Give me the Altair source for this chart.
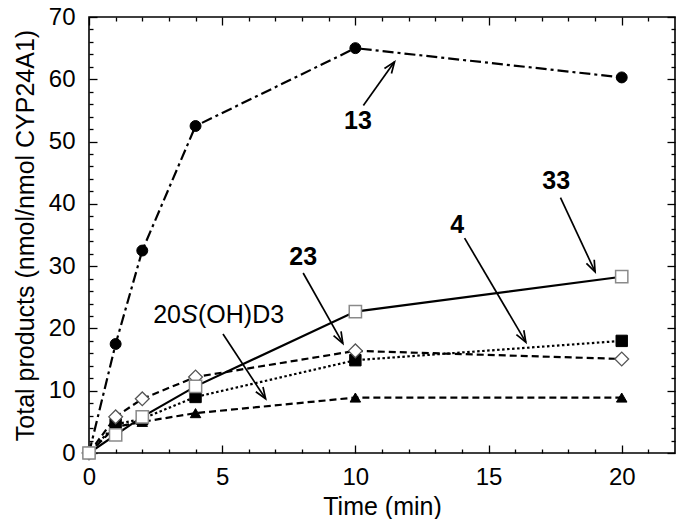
import math
import altair as alt
import pandas as pd

# ---------------- data ----------------
time = [0, 1, 2, 4, 10, 20]
c13 = [0, 17.5, 32.5, 52.5, 65.0, 60.3]
c33 = [0, 2.9, 5.8, 10.7, 22.7, 28.3]
c4 = [0, 4.6, 5.5, 9.0, 14.9, 18.0]
c23 = [0, 5.8, 8.7, 12.2, 16.4, 15.1]
c20s = [0, 4.2, 5.0, 6.4, 8.9, 8.9]

x_major = [0, 5, 10, 15, 20]
y_major = [0, 10, 20, 30, 40, 50, 60, 70]
x_ticks = list(range(0, 22))
y_ticks = list(range(0, 71, 2))

label_text = ["13", "33", "4", "23"]
label_x = [10.1, 17.54, 13.82, 8.04]
label_y = [53.3, 43.7, 36.6, 31.5]

arrow_x1 = [10.3, 17.7, 14.1, 8.04, 5.03]
arrow_y1 = [55.8, 41.0, 34.5, 28.9, 19.1]
arrow_x2 = [11.47, 19.0, 16.4, 9.53, 6.63]
arrow_y2 = [62.8, 29.1, 17.8, 17.6, 8.7]

oh_x = [4.88]
oh_y = [22.2]

# ---------------- layout ----------------
W, H = 586, 436
XMAX, YMAX = 22, 70
FONT = "Liberation Sans"

xs = alt.Scale(domain=[0, XMAX], nice=False, zero=False)
ys = alt.Scale(domain=[0, YMAX], nice=False, zero=False)


def X(field, **kw):
    return alt.X(field, type="quantitative", scale=xs, **kw)


def Y(field, **kw):
    return alt.Y(field, type="quantitative", scale=ys, **kw)


dummy = pd.DataFrame({"t": [0], "v": [0]})

x_tsize = {"condition": {"test": "datum.value % 5 === 0", "value": 8}, "value": 4}
y_tsize = {"condition": {"test": "datum.value % 10 === 0", "value": 8}, "value": 4}

# labelled axes (no ticks)
axis_labels = alt.Chart(dummy).mark_point(opacity=0).encode(
    x=X("t", axis=alt.Axis(orient="bottom", values=x_major, ticks=False, domain=False,
                          grid=False, labelFontSize=24, labelFont=FONT, labelColor="black",
                          labelFlush=False, labelPadding=12, title="Time (min)",
                          titleFontSize=25, titleFont=FONT, titleFontWeight="normal",
                          titleColor="black", titlePadding=5)),
    y=Y("v", axis=alt.Axis(orient="left", values=y_major, ticks=False, domain=False,
                          grid=False, labelFontSize=24, labelFont=FONT, labelColor="black",
                          labelPadding=14, title="Total products (nmol/nmol CYP24A1)",
                          titleFontSize=25, titleFont=FONT, titleFontWeight="normal",
                          titleColor="black", titlePadding=10)),
)

# inward ticks on bottom and left edges
ticks_a = alt.Chart(dummy).mark_point(opacity=0).encode(
    x=X("t", axis=alt.Axis(orient="top", offset=-H, values=x_ticks, labels=False,
                          domain=False, grid=False, title=None, tickSize=x_tsize,
                          tickWidth=1.3, tickColor="black")),
    y=Y("v", axis=alt.Axis(orient="right", offset=-W, values=y_ticks, labels=False,
                          domain=False, grid=False, title=None, tickSize=y_tsize,
                          tickWidth=1.3, tickColor="black")),
)

# inward ticks on top and right edges
ticks_b = alt.Chart(dummy).mark_point(opacity=0).encode(
    x=X("t", axis=alt.Axis(orient="bottom", offset=-H, values=x_ticks, labels=False,
                          domain=False, grid=False, title=None, tickSize=x_tsize,
                          tickWidth=1.3, tickColor="black")),
    y=Y("v", axis=alt.Axis(orient="left", offset=-W, values=y_ticks, labels=False,
                          domain=False, grid=False, title=None, tickSize=y_tsize,
                          tickWidth=1.3, tickColor="black")),
)

series = {
    "13": c13,
    "33": c33,
    "4": c4,
    "23": c23,
    "20S": c20s,
}
df = pd.DataFrame(
    [{"t": t, "v": v, "s": k} for k, vals in series.items() for t, v in zip(time, vals)]
)


def line(key, dash):
    kw = {} if dash is None else {"strokeDash": dash}
    return alt.Chart(df).transform_filter(alt.datum.s == key).mark_line(
        color="black", strokeWidth=2.2, **kw
    ).encode(x=X("t", axis=None), y=Y("v", axis=None))


def points(key, shape, size, fill, stroke, sw=1.0):
    return alt.Chart(df).transform_filter(alt.datum.s == key).mark_point(
        shape=shape, size=size, filled=True, fill=fill, stroke=stroke,
        strokeWidth=sw, opacity=1
    ).encode(x=X("t", axis=None), y=Y("v", axis=None))


lines = [
    line("20S", [7, 4]),
    line("4", [2.5, 2.5]),
    line("23", [7, 4]),
    line("33", None),
    line("13", [11, 4, 3, 4]),
]
pts = [
    points("13", "circle", 120, "black", "black"),
    points("20S", "triangle-up", 110, "black", "black"),
    points("4", "square", 130, "black", "black"),
    points("23", "diamond", 190, "white", "#555555", 1.3),
    points("33", "square", 150, "white", "#8a8a8a", 1.5),
]

# arrows
pxx, pxy = W / XMAX, H / YMAX
angles = []
for a, b, c, d in zip(arrow_x1, arrow_y1, arrow_x2, arrow_y2):
    dx = (c - a) * pxx
    dy = -(d - b) * pxy
    angles.append(math.degrees(math.atan2(dx, -dy)) % 360)
arrows = pd.DataFrame({"x1": arrow_x1, "y1": arrow_y1, "x2": arrow_x2, "y2": arrow_y2,
                       "ang": angles})

arrow_lines = alt.Chart(arrows).mark_rule(color="black", strokeWidth=1.7).encode(
    x=X("x1", axis=None), y=Y("y1", axis=None), x2="x2", y2="y2"
)
arrow_heads = alt.Chart(arrows).mark_point(
    shape="M -0.42 1.1 L 0 0 L 0.42 1.1", size=420, filled=False,
    stroke="black", strokeWidth=1.7, opacity=1
).encode(x=X("x2", axis=None), y=Y("y2", axis=None), angle=alt.Angle("ang:Q", scale=None))

labels = pd.DataFrame({"x": label_x, "y": label_y, "txt": label_text})
label_marks = alt.Chart(labels).mark_text(
    font=FONT, fontSize=25, fontWeight="bold", color="black", baseline="middle",
    align="center"
).encode(x=X("x", axis=None), y=Y("y", axis=None), text="txt:N")

ohdf = pd.DataFrame({"x": oh_x, "y": oh_y})
oh_common = dict(font=FONT, fontSize=25, color="black", baseline="middle")
oh1 = alt.Chart(ohdf).mark_text(text="20", align="right", dx=-38, **oh_common).encode(
    x=X("x", axis=None), y=Y("y", axis=None))
oh2 = alt.Chart(ohdf).mark_text(text="S", align="left", dx=-38, fontStyle="italic",
                                **oh_common).encode(x=X("x", axis=None), y=Y("y", axis=None))
oh3 = alt.Chart(ohdf).mark_text(text="(OH)D3", align="left", dx=-21, **oh_common).encode(
    x=X("x", axis=None), y=Y("y", axis=None))

chart = alt.layer(
    axis_labels, ticks_a, ticks_b,
    *lines, arrow_lines, arrow_heads, *pts, label_marks, oh1, oh2, oh3
).resolve_axis(x="independent", y="independent").properties(
    width=W, height=H,
    autosize=alt.AutoSizeParams(type="none"),
    padding={"left": 81, "top": 9, "right": 2, "bottom": 66},
    background="white",
).configure_view(stroke="black", strokeWidth=1.6)

chart.save("out.html", embed_options={"renderer": "svg", "actions": False})
